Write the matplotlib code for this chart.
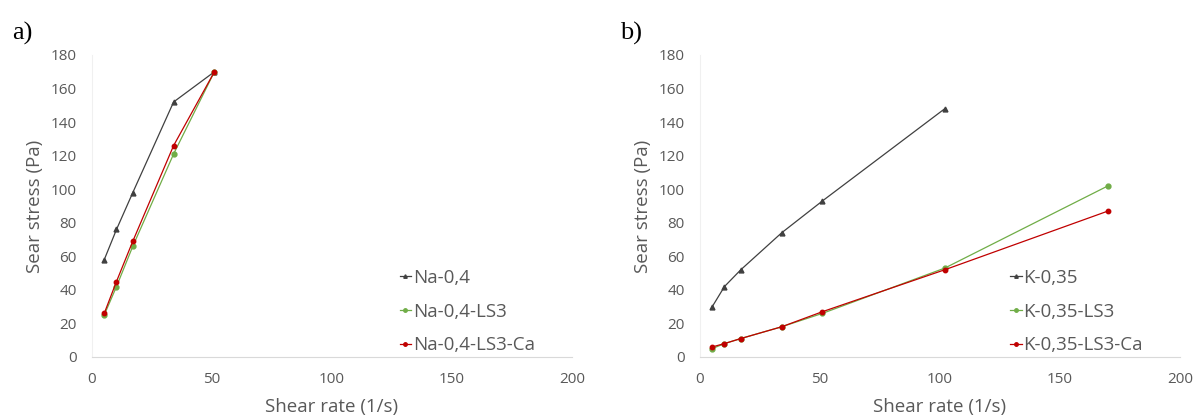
import numpy as np
import matplotlib.pyplot as plt
from matplotlib.lines import Line2D

# ============================================================
# Data
# ============================================================

rate_a = [5.1, 10.2, 17, 34, 51]
na_04 = [58, 76, 98, 152, 170]
na_04_ls3 = [25, 42, 66, 121, 170]
na_04_ls3_ca = [26, 45, 69, 126, 170]

rate_b = [5.1, 10.2, 17, 34, 51, 102, 170]
k_035 = [30, 42, 52, 74, 93, 148]
k_035_ls3 = [5, 8, 11, 18, 26, 53, 102]
k_035_ls3_ca = [6, 8, 11, 18, 27, 52, 87]

labels_a = ["Na-0,4", "Na-0,4-LS3", "Na-0,4-LS3-Ca"]
labels_b = ["K-0,35", "K-0,35-LS3", "K-0,35-LS3-Ca"]

# ============================================================
# Styles
# ============================================================

GREY = "#595959"
C_BLACK = "#404040"
C_GREEN = "#70AD47"
C_RED = "#C00000"
FONT = ["Open Sans", "DejaVu Sans"]

plt.rcParams["font.family"] = FONT

fig = plt.figure(figsize=(11.95, 4.16), dpi=100)

W, H = 1195.0, 416.0


def make_axes(x0, x1):
    ax = fig.add_axes([x0 / W, 1 - 357 / H, (x1 - x0) / W, (357 - 55) / H])
    ax.set_xlim(0, 200)
    ax.set_ylim(0, 180)
    ax.set_xticks([0, 50, 100, 150, 200])
    ax.set_yticks(np.arange(0, 181, 20))
    ax.tick_params(length=0, colors=GREY, labelsize=11)
    ax.tick_params(axis="y", pad=11)
    ax.tick_params(axis="x", pad=11)
    for s in ["top", "right"]:
        ax.spines[s].set_visible(False)
    ax.spines["bottom"].set_color("#d9d9d9")
    ax.spines["left"].set_color("#f0f0f0")
    ax.set_xlabel("Shear rate (1/s)", color=GREY, fontsize=13.5, labelpad=8)
    ax.set_ylabel("Sear stress (Pa)", color=GREY, fontsize=13.5, labelpad=5)
    return ax


def draw(ax, x, series, labels):
    styles = [(C_BLACK, "^", 3.5), (C_GREEN, "o", 3.5), (C_RED, "o", 3.2)]
    handles = []
    for y, lab, (c, m, ms) in zip(series, labels, styles):
        ax.plot(x[:len(y)], y, color=c, lw=0.9, marker=m, ms=ms)
        handles.append(Line2D([], [], color=c, lw=0.9, marker=m, ms=2.5))
    leg = ax.legend(handles, labels, loc="lower right",
                    bbox_to_anchor=(0.95, -0.035), frameon=False,
                    fontsize=13.5, handlelength=0.6, handletextpad=0.1,
                    labelspacing=0.85, labelcolor=GREY,
                    borderaxespad=0.3)
    return leg


ax_a = make_axes(92, 572)
draw(ax_a, rate_a, [na_04, na_04_ls3, na_04_ls3_ca], labels_a)

ax_b = make_axes(700, 1180)
draw(ax_b, rate_b, [k_035, k_035_ls3, k_035_ls3_ca], labels_b)

fig.text(12 / W, 1 - 40 / H, "a)", fontsize=19, family="Liberation Serif")
fig.text(620 / W, 1 - 40 / H, "b)", fontsize=19, family="Liberation Serif")

fig.savefig("out.png", dpi=100)
